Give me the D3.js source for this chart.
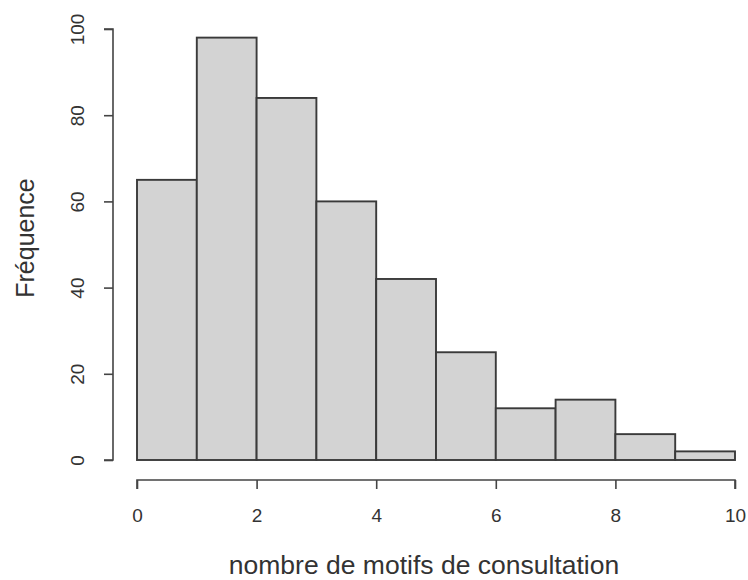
<!DOCTYPE html>
<html>
<head>
<meta charset="utf-8">
<script src="https://cdn.jsdelivr.net/npm/d3@7"></script>
<style>
  body { margin: 0; background: #fff; }
  text { font-family: "Liberation Sans", Arial, sans-serif; fill: #333; }
</style>
</head>
<body>
<div id="chart"></div>
<script>
// Histogram bins and counts
const binStarts = [0, 1, 2, 3, 4, 5, 6, 7, 8, 9];
const binWidth = 1;
const counts = [65, 98, 84, 60, 42, 25, 12, 14, 6, 2];
const xTicks = [0, 2, 4, 6, 8, 10];
const yTicks = [0, 20, 40, 60, 80, 100];

const W = 748, H = 580;

const svg = d3.select("#chart")
  .append("svg")
  .attr("width", W)
  .attr("height", H);

// Scales
const xScale = d3.scaleLinear().domain([0, 10]).range([137, 735]);
const yScale = d3.scaleLinear().domain([0, 100]).range([460, 29]);

const data = binStarts.map((s, i) => ({ x0: s, x1: s + binWidth, n: counts[i] }));

// Bars
svg.selectAll(".bar")
  .data(data)
  .enter()
  .append("rect")
  .attr("class", "bar")
  .attr("x", d => xScale(d.x0))
  .attr("y", d => yScale(d.n))
  .attr("width", d => xScale(d.x1) - xScale(d.x0))
  .attr("height", d => yScale(0) - yScale(d.n))
  .attr("fill", "#d3d3d3")
  .attr("stroke", "#3a3a3a")
  .attr("stroke-width", 1.9);

// X axis (R style, detached below)
const xAxis = svg.append("g")
  .attr("transform", "translate(0,480)")
  .call(d3.axisBottom(xScale).tickValues(xTicks).tickSize(9).tickPadding(20).tickFormat(d3.format("d")));

// Y axis (R style, detached left, rotated labels)
const yAxis = svg.append("g")
  .attr("transform", "translate(113,0)")
  .call(d3.axisLeft(yScale).tickValues(yTicks).tickSize(9).tickPadding(0).tickFormat(d3.format("d")));

[xAxis, yAxis].forEach(g => {
  g.selectAll(".tick line").attr("stroke", "#444").attr("stroke-width", 1.6);
  g.selectAll(".tick text").attr("fill", "#333").style("font-size", "19px")
    .style("font-family", "Liberation Sans, Arial, sans-serif");
});

// Axis lines span only the tick range, like R
xAxis.select(".domain")
  .attr("d", `M${xScale(0)},9V0H${xScale(10)}V9`)
  .attr("fill", "none").attr("stroke", "#444").attr("stroke-width", 1.6);
yAxis.select(".domain")
  .attr("d", `M-9,${yScale(0)}H0V${yScale(100)}H-9`)
  .attr("fill", "none").attr("stroke", "#444").attr("stroke-width", 1.6);

// Rotate y tick labels
yAxis.selectAll(".tick text")
  .attr("x", null)
  .attr("text-anchor", "middle")
  .attr("transform", "translate(-36,0) rotate(-90)")
  .attr("dy", "0.35em");

// Axis titles
svg.append("text")
  .attr("x", (xScale(0) + xScale(10)) / 2 - 12)
  .attr("y", 574)
  .attr("text-anchor", "middle")
  .style("font-size", "26.5px")
  .text("nombre de motifs de consultation");

svg.append("text")
  .attr("transform", `translate(34,238) rotate(-90)`)
  .attr("text-anchor", "middle")
  .style("font-size", "25px")
  .text("Fréquence");
</script>
</body>
</html>
